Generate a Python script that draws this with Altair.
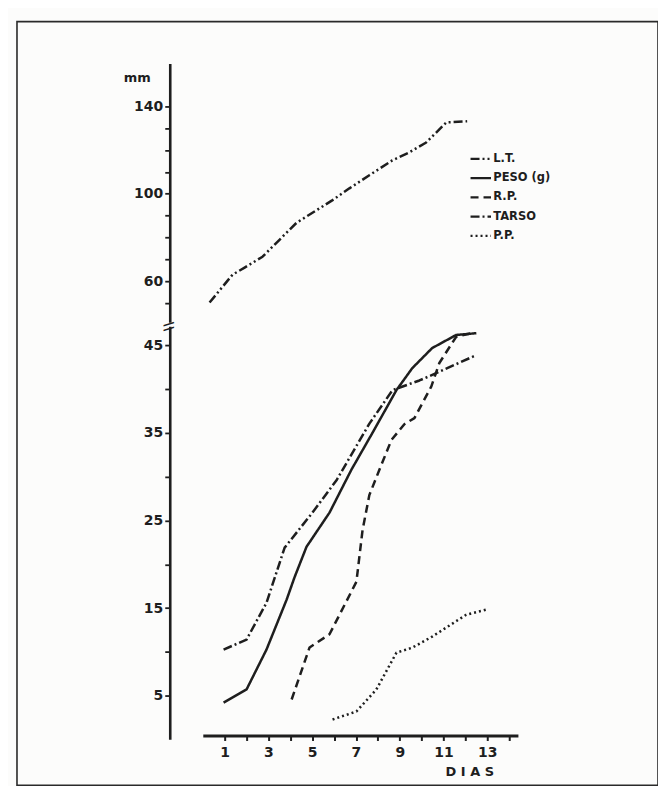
import altair as alt
import pandas as pd

# ---------------- data ----------------
SERIES = ["L.T.", "PESO (g)", "R.P.", "TARSO", "P.P."]

# upper panel (mm)
lt_dia = [0.31, 1.36, 1.91, 2.73, 4.28, 5.93, 6.70, 7.61, 8.66, 9.44, 10.21, 11.13, 12.08]
lt_val = [50.2, 63.0, 66.2, 71.2, 86.7, 97.1, 102.5, 108.5, 115.3, 119.0, 123.5, 132.7, 133.2]

# lower panel
peso_dia = [0.95, 2.00, 2.91, 3.83, 4.19, 4.74, 5.79, 6.79, 7.75, 8.85, 9.57, 10.48, 11.58, 12.50]
peso_val = [4.2, 5.7, 10.25, 15.95, 18.5, 22.0, 25.9, 30.8, 35.0, 39.9, 42.4, 44.7, 46.2, 46.4]

rp_dia = [4.06, 4.88, 5.79, 7.02, 7.30, 7.61, 8.07, 8.62, 9.21, 9.67, 10.44, 10.81, 11.58, 12.27]
rp_val = [4.55, 10.5, 12.0, 18.0, 23.9, 27.9, 30.8, 34.2, 36.0, 36.7, 40.3, 43.0, 46.0, 46.4]

tarso_dia = [0.95, 2.00, 2.91, 3.74, 5.01, 6.11, 7.62, 8.67, 9.90, 10.81, 12.50]
tarso_val = [10.25, 11.4, 15.6, 21.9, 25.9, 29.6, 36.1, 39.9, 41.0, 42.0, 43.9]

pp_dia = [5.93, 7.02, 7.93, 8.85, 9.57, 10.48, 12.04, 12.95]
pp_val = [2.27, 3.18, 5.69, 9.90, 10.47, 11.73, 14.24, 14.81]

x_ticks = list(range(1, 15))
y_ticks_low = [5, 10, 15, 20, 25, 30, 35, 40, 45]
y_ticks_top = [50, 60, 70, 80, 90, 100, 110, 120, 130, 140]

DASHES = [[9, 3, 2, 3, 2, 3], [1, 0], [8, 5], [9, 3, 2, 3], [2, 3]]

# ---------------- tables ----------------
def long(serie, dias, vals):
    return pd.DataFrame({"dia": dias, "valor": vals, "serie": serie})

df_low = pd.concat([
    long("PESO (g)", peso_dia, peso_val),
    long("R.P.", rp_dia, rp_val),
    long("TARSO", tarso_dia, tarso_val),
    long("P.P.", pp_dia, pp_val),
], ignore_index=True)
df_top = long("L.T.", lt_dia, lt_val)

# ---------------- style ----------------
FONT = "DejaVu Sans"
INK = "#1e1e1e"
BG = "#fcfcfb"
W, H = 642, 765
AX_OFF = -153

x_scale = alt.Scale(domain=[0, 14.4], range=[186.1, 501.7], nice=False, zero=False)
x_axis = alt.Axis(
    orient="bottom", offset=-50, values=x_ticks,
    labelExpr="(datum.value % 2 == 1 && datum.value <= 13) ? datum.label : ''",
    tickSize=5, tickWidth=2, tickColor=INK, domainColor=INK, domainWidth=2.8,
    labelFont=FONT, labelFontSize=14, labelFontWeight="bold", labelColor=INK,
    labelPadding=5, labelOverlap=False,
    title="D I A S", titleX=453, titleY=36, titleAlign="center",
    titleBaseline="middle", titleFont=FONT, titleFontSize=13,
    titleFontWeight="bold", titleColor=INK, grid=False,
)

y_low_axis = alt.Axis(
    orient="left", offset=AX_OFF, values=y_ticks_low,
    labelExpr="datum.value % 10 == 5 ? datum.label : ''",
    tickSize=5, tickWidth=1.8, tickColor=INK, domainColor=INK, domainWidth=2.6,
    labelFont=FONT, labelFontSize=14, labelFontWeight="bold", labelColor=INK,
    labelPadding=2, labelOverlap=False,
    title="\\\\", titleAngle=90, titleX=-1, titleY=305, titleAlign="center",
    titleBaseline="middle", titleFont=FONT, titleFontSize=13,
    titleFontWeight="bold", titleColor=INK, grid=False,
)

y_top_axis = alt.Axis(
    orient="left", offset=AX_OFF, values=y_ticks_top,
    labelExpr="(datum.value == 60 || datum.value == 100 || datum.value == 140) ? datum.label : ''",
    tickSize=5, tickWidth=1.8, tickColor=INK, domainColor=INK, domainWidth=2.6,
    labelFont=FONT, labelFontSize=14, labelFontWeight="bold", labelColor=INK,
    labelPadding=2, labelOverlap=False,
    title="mm", titleAngle=0, titleX=-33, titleY=56, titleAlign="center",
    titleBaseline="middle", titleFont=FONT, titleFontSize=13,
    titleFontWeight="bold", titleColor=INK, grid=False,
)

dash_scale = alt.Scale(domain=SERIES, range=DASHES)
legend = alt.Legend(
    orient="none", legendX=453, legendY=126, padding=0,
    symbolType="stroke", symbolSize=420, symbolStrokeWidth=2.2,
    symbolStrokeColor=INK, labelFont=FONT, labelFontSize=11.5,
    labelFontWeight="bold", labelColor=INK, labelOffset=1, rowPadding=2.3,
)

line_kw = dict(strokeWidth=2.5, color=INK, strokeCap="butt", strokeJoin="round", clip=False)

low = alt.Chart(df_low).mark_line(**line_kw).encode(
    x=alt.X("dia:Q", scale=x_scale, axis=x_axis),
    y=alt.Y("valor:Q", axis=y_low_axis,
            scale=alt.Scale(domain=[0, 47.2], range=[718.85, 305.1], nice=False, zero=False)),
    strokeDash=alt.StrokeDash("serie:N", scale=dash_scale, legend=legend, title=None),
)

top = alt.Chart(df_top).mark_line(**line_kw).encode(
    x=alt.X("dia:Q", scale=x_scale, axis=x_axis),
    y=alt.Y("valor:Q", axis=y_top_axis,
            scale=alt.Scale(domain=[41.2, 159.7], range=[301.1, 41.9], nice=False, zero=False)),
    strokeDash=alt.StrokeDash("serie:N", scale=dash_scale, legend=legend, title=None),
)

chart = (
    alt.layer(low, top)
    .resolve_scale(y="independent")
    .properties(
        width=W, height=H, background=BG,
        padding={"left": 9, "top": 13, "right": 0, "bottom": 0},
    )
    .configure_view(stroke="#2a2a2a", strokeWidth=1.6)
)

chart.save("out.html", embed_options={"renderer": "svg", "actions": False})
